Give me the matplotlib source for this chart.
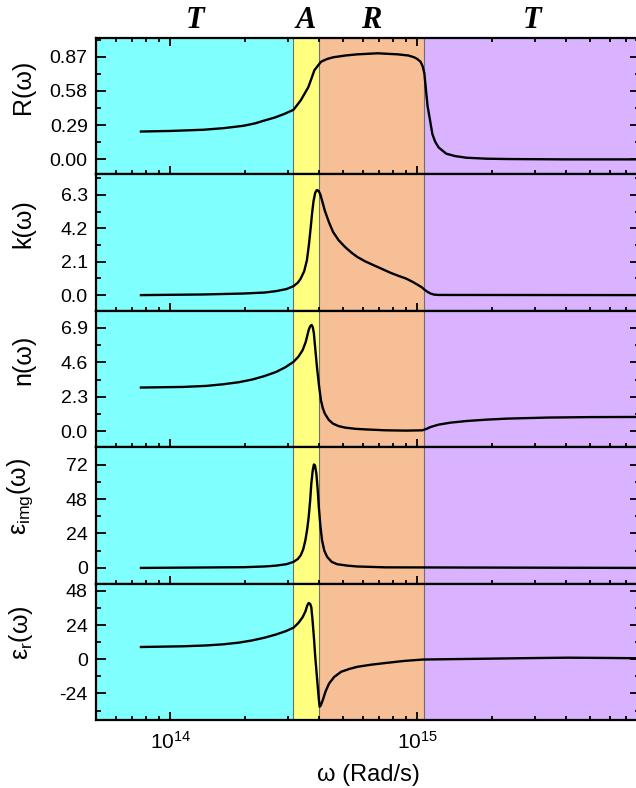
import numpy as np
import matplotlib
matplotlib.use("Agg")
import matplotlib.pyplot as plt
from matplotlib.ticker import FormatStrFormatter, MultipleLocator, AutoMinorLocator, LogLocator, NullFormatter

plt.rcParams['font.family'] = ['Liberation Sans', 'DejaVu Sans']
plt.rcParams['mathtext.fontset'] = 'custom'
plt.rcParams['mathtext.rm'] = 'Liberation Sans'
plt.rcParams['mathtext.it'] = 'Liberation Sans:italic'
plt.rcParams['axes.unicode_minus'] = False

# frequency grids (units of 1e14 rad/s) and optical constants
w_R = [0.76, 1.0, 1.36, 1.65, 1.98, 2.2, 2.39, 2.65, 2.89, 3.15, 3.37, 3.62, 3.83, 4.07, 4.3,
       4.56, 5.1, 5.71, 6.9, 8.34, 9.2, 9.7, 10.0, 10.3, 10.5, 10.67, 10.87, 11.0, 11.2, 11.5,
       11.8, 12.2, 13.1, 14.2, 15.8, 19.0, 23.1, 40.0, 80.0]
R = [0.236, 0.241, 0.251, 0.265, 0.285, 0.305, 0.328, 0.355, 0.385, 0.42, 0.50, 0.613, 0.756, 0.827, 0.85,
     0.865, 0.88, 0.89, 0.899, 0.89, 0.88, 0.865, 0.85, 0.827, 0.79, 0.73, 0.556, 0.45, 0.356, 0.214,
     0.15, 0.10, 0.048, 0.028, 0.014, 0.006, 0.003, 0.0, 0.0]

w_k = [0.76, 1.36, 1.98, 2.4, 2.68, 2.95, 3.15, 3.28, 3.37, 3.48, 3.57, 3.64, 3.70, 3.75, 3.80,
       3.86, 3.92, 3.98, 4.04, 4.12, 4.22, 4.38, 4.56, 4.8, 5.1, 5.4, 5.71, 6.15, 6.65, 7.2,
       7.74, 8.35, 9.0, 9.6, 10.07, 10.4, 10.67, 11.0, 11.3, 11.7, 12.2, 80.0]
k = [0.0, 0.04, 0.1, 0.16, 0.25, 0.38, 0.56, 0.78, 1.04, 1.5, 2.19, 3.2, 4.27, 5.2, 5.94,
     6.45, 6.61, 6.55, 6.36, 5.9, 5.31, 4.6, 3.96, 3.45, 3.02, 2.68, 2.4, 2.12, 1.88, 1.64,
     1.42, 1.22, 1.04, 0.82, 0.63, 0.5, 0.35, 0.2, 0.1, 0.03, 0.01, 0.0]

w_n = [0.76, 1.125, 1.4, 1.64, 1.9, 2.14, 2.4, 2.68, 2.92, 3.15, 3.3, 3.43, 3.53, 3.63, 3.68,
       3.73, 3.77, 3.81, 3.86, 3.92, 4.0, 4.07, 4.14, 4.22, 4.38, 4.56, 4.8, 5.1, 5.6, 6.17,
       7.45, 9.0, 10.47, 10.9, 11.3, 12.2, 13.6, 15.8, 19.0, 23.1, 33.8, 50.0, 80.0]
n = [2.92, 2.96, 3.03, 3.14, 3.28, 3.45, 3.68, 3.96, 4.27, 4.63, 4.98, 5.41, 5.95, 6.75, 7.0,
     7.09, 6.95, 6.53, 5.5, 4.3, 3.0, 2.07, 1.55, 1.18, 0.76, 0.51, 0.35, 0.25, 0.17, 0.13,
     0.07, 0.05, 0.07, 0.17, 0.29, 0.45, 0.58, 0.69, 0.78, 0.85, 0.92, 0.95, 0.96]

w_ei = [0.76, 1.98, 2.4, 2.68, 2.95, 3.15, 3.28, 3.37, 3.45, 3.52, 3.58, 3.63, 3.68, 3.72,
        3.77, 3.81, 3.85, 3.90, 3.95, 3.99, 4.05, 4.11, 4.2, 4.31, 4.5, 4.73, 5.2, 5.71,
        7.45, 80.0]
eps_img = [0.0, 0.5, 1.0, 1.6, 2.6, 4.2, 6.2, 8.8, 13.0, 19.3, 27.0, 35.5, 47.0, 58.7,
           68.0, 72.1, 71.5, 65.7, 54.0, 42.4, 29.0, 19.3, 12.0, 7.7, 4.2, 2.6, 1.6, 1.0,
           0.4, 0.0]

w_er = [0.76, 1.125, 1.4, 1.64, 1.9, 2.14, 2.4, 2.68, 2.92, 3.15, 3.3, 3.43, 3.52, 3.58,
        3.63, 3.68, 3.72, 3.76, 3.81, 3.86, 3.92, 3.98, 4.02, 4.06, 4.14, 4.25, 4.39, 4.6,
        4.91, 5.3, 5.71, 6.5, 7.45, 8.8, 10.5, 14.0, 19.2, 28.0, 40.8, 60.0, 80.0]
eps_r = [8.6, 9.1, 9.7, 10.5, 11.7, 13.2, 15.1, 17.4, 19.6, 22.1, 25.5, 29.5, 33.5, 37.6,
         39.5, 38.8, 36.5, 28.0, 15.6, 1.5, -12.3, -26.0, -33.3, -32.5, -28.6, -22.5, -17.0, -12.5,
         -8.8, -6.8, -5.3, -3.8, -2.6, -1.2, -0.2, 0.1, 0.4, 0.8, 1.1, 0.9, 0.7]

# spectral regions: transparent, absorbing, reflecting, transparent
band_edges = [5e13, 3.15e14, 3.99e14, 1.06e15, 8e15]
band_colors = ['#80FFFF', '#FFFF80', '#F7BF95', '#D9B3FF']
band_names = ['T', 'A', 'R', 'T']

panels = [
    (w_R, R, 'R(ω)', (-0.126, 1.03), 0.29, '%.2f'),
    (w_k, k, 'k(ω)', (-0.98, 7.6), 2.1, '%.1f'),
    (w_n, n, 'n(ω)', (-1.05, 8.04), 2.3, '%.1f'),
    (w_ei, eps_img, 'ε$_{\\mathregular{img}}$(ω)', (-10.9, 84.2), 24, '%d'),
    (w_er, eps_r, 'ε$_{\\mathregular{r}}$(ω)', (-42.6, 53.1), 24, '%d'),
]

fig, axes = plt.subplots(5, 1, sharex=True, figsize=(6.36, 7.88), dpi=100)
fig.subplots_adjust(left=0.151, right=1.007, top=0.952, bottom=0.0863, hspace=0)

for i, (ax, (w, y, label, ylim, step, fmt)) in enumerate(zip(axes, panels)):
    for j, c in enumerate(band_colors):
        ax.axvspan(band_edges[j], band_edges[j + 1], color=c, lw=0, zorder=0)
    for e in band_edges[1:-1]:
        ax.axvline(e, color='#6E6E6E', lw=0.8, zorder=1)
    ax.plot(np.array(w) * 1e14, y, color='black', lw=1.7, zorder=3)
    ax.set_xscale('log')
    ax.set_xlim(band_edges[0], band_edges[-1])
    ax.set_ylim(*ylim)
    ax.yaxis.set_major_locator(MultipleLocator(step))
    ax.yaxis.set_minor_locator(AutoMinorLocator(2))
    ax.yaxis.set_major_formatter(FormatStrFormatter(fmt))
    ax.set_ylabel(label, fontsize=18)
    ax.yaxis.set_label_coords(-0.112, 0.64)
    for s in ax.spines.values():
        s.set_linewidth(1.6)
    ax.tick_params(axis='y', which='both', direction='in', right=True, labelsize=14, pad=6, width=1.3)
    ax.tick_params(axis='y', which='major', length=7)
    ax.tick_params(axis='y', which='minor', length=3.6)
    ax.tick_params(axis='x', which='both', direction='in', top=(i == 0), width=1.3, labelsize=15, pad=8)
    ax.tick_params(axis='x', which='major', length=6)
    ax.tick_params(axis='x', which='minor', length=3)

ax = axes[-1]
ax.xaxis.set_major_locator(LogLocator(base=10))
ax.xaxis.set_minor_locator(LogLocator(base=10, subs=np.arange(2, 10)))
ax.xaxis.set_minor_formatter(NullFormatter())
ax.set_xlabel('ω (Rad/s)', fontsize=17, labelpad=8)

top = axes[0]
for j, name in enumerate(band_names):
    xc = np.sqrt(band_edges[j] * band_edges[j + 1])
    top.text(xc, 1.13, name, transform=top.get_xaxis_transform(), ha='center', va='center',
             fontsize=22, fontweight='bold', fontstyle='italic', family='Liberation Serif')

fig.savefig('out.png', dpi=100)
